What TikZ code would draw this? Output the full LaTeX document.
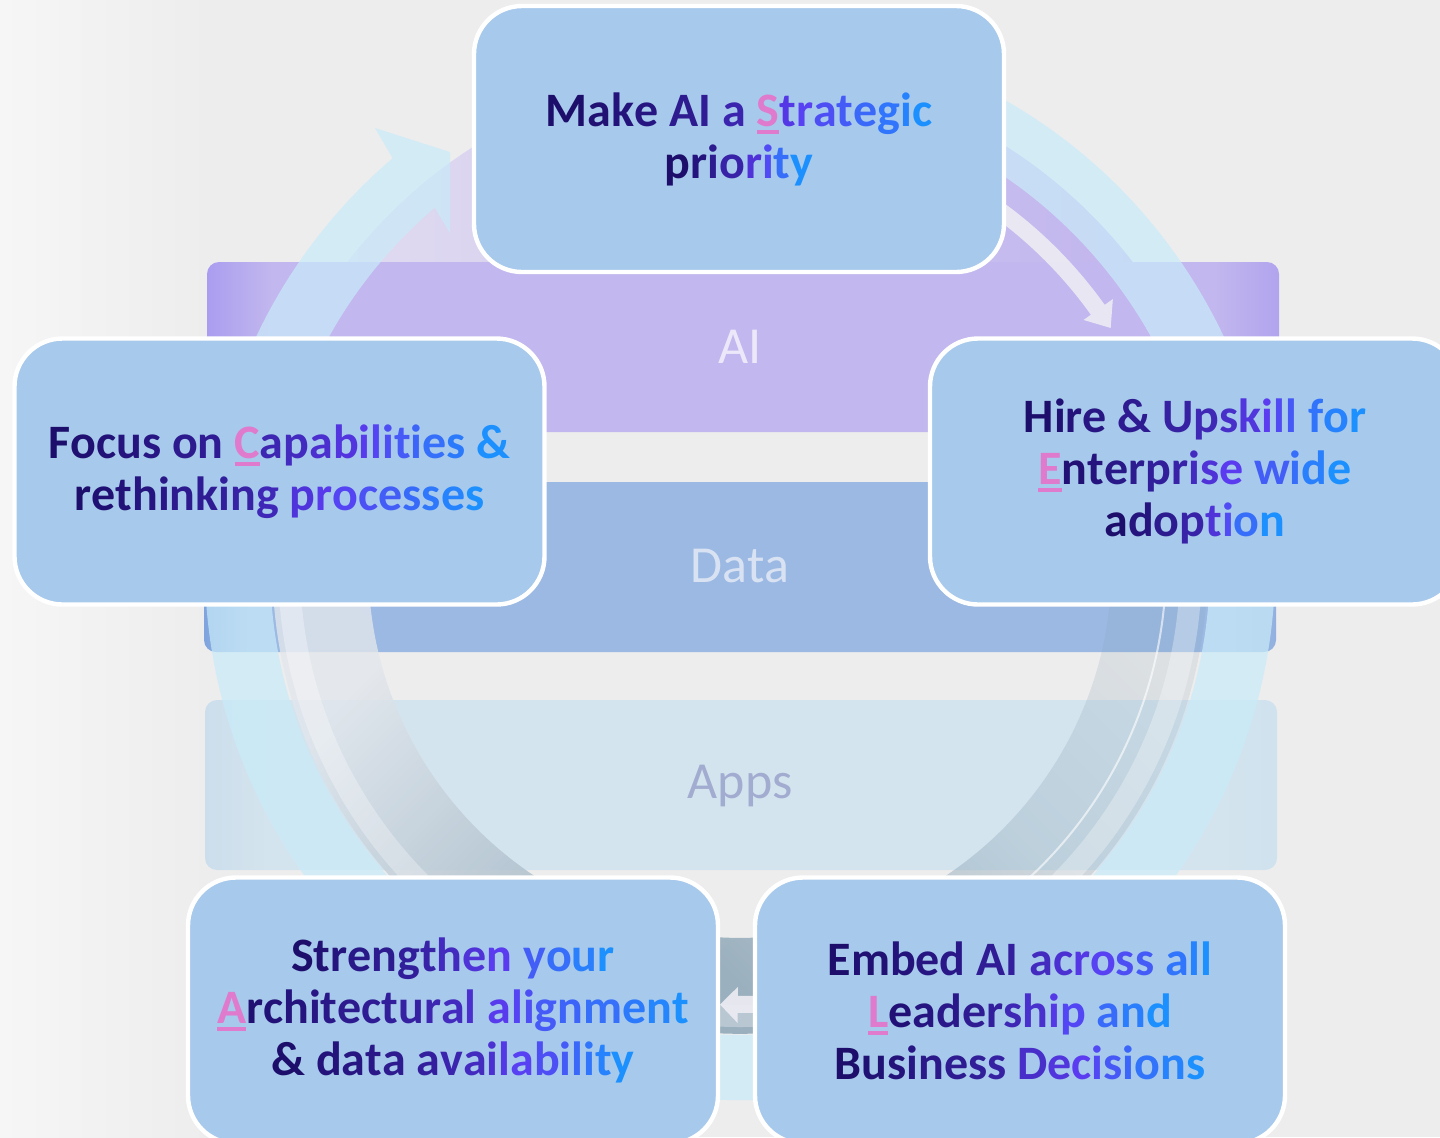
\documentclass[tikz,border=0pt]{standalone}
\usepackage{fontspec}
\setmainfont{Carlito}
\usetikzlibrary{fadings}
\definecolor{bgc}{HTML}{EDEDED}
\definecolor{bgl}{HTML}{F6F6F6}
\definecolor{boxc}{HTML}{A7C9EB}
\definecolor{glA}{HTML}{1D0E6C}
\definecolor{glB}{HTML}{34209F}
\definecolor{glC}{HTML}{5B3CF2}
\definecolor{glD}{HTML}{1C90FF}
\definecolor{glP}{HTML}{E07ACC}
\definecolor{aiA}{HTML}{AA9DF0}
\definecolor{aiB}{HTML}{C2B7EE}
\definecolor{aiC}{HTML}{B1A4EE}
\definecolor{daA}{HTML}{7FA4DE}
\definecolor{daB}{HTML}{9BB9E3}
\definecolor{daC}{HTML}{93B1E0}
\definecolor{apA}{HTML}{CCDEEC}
\definecolor{apB}{HTML}{D4E4EE}
\definecolor{apC}{HTML}{CFE2EE}
\definecolor{aitext}{HTML}{ECE8FA}
\definecolor{datext}{HTML}{D8E2F2}
\definecolor{aptext}{HTML}{A2ACD0}
\definecolor{lavL}{HTML}{E4E0F0}
\definecolor{lavR}{HTML}{BDB0EE}
\definecolor{cyanc}{HTML}{C9EBF9}
\definecolor{ringT}{HTML}{E2E6EC}
\definecolor{ringB}{HTML}{86A1B3}
\definecolor{warrow}{HTML}{ECEBF3}
\pgfdeclarehorizontalshading{aibar}{100bp}{color(0bp)=(aiA); color(25bp)=(aiA); color(28bp)=(aiB); color(72bp)=(aiB); color(75bp)=(aiC); color(100bp)=(aiC)}
\pgfdeclarehorizontalshading{databar}{100bp}{color(0bp)=(daA); color(25bp)=(daA); color(27bp)=(daB); color(73bp)=(daB); color(75bp)=(daC); color(100bp)=(daC)}
\pgfdeclarehorizontalshading{appsbar}{100bp}{color(0bp)=(apA); color(25bp)=(apA); color(28bp)=(apB); color(72bp)=(apB); color(75bp)=(apC); color(100bp)=(apC)}
\pgfdeclareverticalshading{ringcol}{100bp}{color(0bp)=(ringB); color(36bp)=(ringB); color(60bp)=(ringT); color(100bp)=(ringT)}
\pgfdeclarehorizontalshading{ringfadeshade}{100bp}{color(0bp)=(white!80!black); color(34bp)=(white!80!black); color(50bp)=(white!30!black); color(62bp)=(white!16!black); color(100bp)=(white!16!black)}
\pgfdeclarefading{ringfade}{\pgfuseshading{ringfadeshade}}
\ExplSyntaxOn
\int_new:N \l__gl_n_int
\int_new:N \l__gl_i_int
\fp_new:N \l__gl_t_fp
\bool_new:N \l__gl_mark_bool
\str_new:N \l__gl_str
\tl_new:N \l__gl_col_tl
\box_new:N \l__gl_box
\cs_new_protected:Npn \__gl_setcol:
  {
    \fp_set:Nn \l__gl_t_fp { ( \int_use:N \l__gl_i_int - 1 ) / max( \int_use:N \l__gl_n_int - 1 , 1 ) }
    \fp_compare:nNnTF { \l__gl_t_fp } < { 0.4 }
      { \tl_set:Nx \l__gl_col_tl { glB!\fp_eval:n { round( 100 * \l__gl_t_fp / 0.4 ) }!glA } }
      {
        \fp_compare:nNnTF { \l__gl_t_fp } < { 0.65 }
          { \tl_set:Nx \l__gl_col_tl { glC!\fp_eval:n { round( 100 * ( \l__gl_t_fp - 0.4 ) / 0.25 ) }!glB } }
          { \tl_set:Nx \l__gl_col_tl { glD!\fp_eval:n { round( 100 * ( \l__gl_t_fp - 0.65 ) / 0.35 ) }!glC } }
      }
  }
\cs_new_protected:Npn \__gl_ul:n #1
  {
    \group_begin:
    \color{glP}
    \hbox_set:Nn \l__gl_box {#1}
    \hbox_overlap_right:n { \rule[-0.16em]{ \box_wd:N \l__gl_box }{ 0.085em } }
    \box_use:N \l__gl_box
    \group_end:
  }
\NewDocumentCommand \gl { m }
  {
    \str_set:Nn \l__gl_str { #1 }
    \int_set:Nn \l__gl_n_int { \str_count:N \l__gl_str }
    \str_if_in:NnT \l__gl_str { * } { \int_decr:N \l__gl_n_int }
    \int_zero:N \l__gl_i_int
    \bool_set_false:N \l__gl_mark_bool
    \str_map_inline:Nn \l__gl_str
      {
        \str_if_eq:nnTF { ##1 } { * }
          { \bool_set_true:N \l__gl_mark_bool }
          {
            \int_incr:N \l__gl_i_int
            \str_if_eq:nnTF { ##1 } { ~ }
              { \c_space_tl }
              {
                \bool_if:NTF \l__gl_mark_bool
                  { \__gl_ul:n { ##1 } \bool_set_false:N \l__gl_mark_bool }
                  {
                    \__gl_setcol:
                    \str_if_eq:nnTF { ##1 } { + }
                      { { \exp_args:NV \color \l__gl_col_tl \& } }
                      { { \exp_args:NV \color \l__gl_col_tl ##1 } }
                  }
              }
          }
      }
  }
\ExplSyntaxOff
\tikzset{
  box/.style={draw=white, line width=2.2pt, fill=boxc, rounded corners=24pt,
    minimum width=265pt, minimum height=133pt, align=center, inner sep=0pt,
    font=\bfseries\fontsize{24pt}{26pt}\selectfont},
  lbl/.style={font=\fontsize{26pt}{30pt}\selectfont, inner sep=0pt},
  cyanband/.style={fill=cyanc, fill opacity=0.7},
  whitearrow/.style={fill=warrow, fill opacity=0.92}
}
\begin{document}
\begin{tikzpicture}[x=0.5pt,y=-0.5pt]
\useasboundingbox (0,0) rectangle (1440,1137);
\begin{scope}
\clip (0,0) rectangle (1440,1137);
% background
\fill[bgc] (0,0) rectangle (1440,1137);
\shade[left color=bgl, right color=bgc] (0,0) rectangle (210,1137);
% lavender glow inside the ring, above the AI layer
\begin{scope}
\clip (0,0) rectangle (1440,262);
\shade[left color=lavL, right color=lavR] (740,565) circle[radius=496];
\end{scope}
% layer bars
\shade[shading=aibar, rounded corners=6pt] (207,262) rectangle (1279,432);
\shade[shading=databar, rounded corners=6pt] (204,482) rectangle (1276,652);
\shade[shading=appsbar, rounded corners=6pt] (205,700) rectangle (1277,870);
\node[lbl, text=aitext] (ai) at (740,347) {AI};
\node[lbl, text=datext] (data) at (740,566) {Data};
\node[lbl, text=aptext] (apps) at (740,786) {Apps};
% inner ring shading
\begin{scope}
\clip (0,440) rectangle (1440,1137);
\shade[even odd rule, shading=ringcol, shading angle=45,
  path fading=ringfade, fading angle=45, fit fading=true]
  (740,565) circle[radius=468] (740,565) circle[radius=372];
\fill[white, fill opacity=0.3, even odd rule]
  (740,565) circle[radius=462] (740,565) circle[radius=440];
\end{scope}
% outer cyan circular arrow
\begin{scope}[shift={(740,565)}]
\draw[white, line width=1pt, opacity=0.6] (-18:426) arc[start angle=-18, end angle=75, radius=426];
\fill[cyanband] (-70:535) arc[start angle=-70, end angle=229.5, radius=535]
  -- (-365,-437) -- (-290,-413) -- (-290,-332) -- (229.5:470)
  arc[start angle=229.5, end angle=-70, radius=470] -- cycle;
% white arrow top right
\fill[whitearrow] (-64:448) arc[start angle=-64, end angle=-35.5, radius=448]
  -- (-35.5:458) -- (-32.6:440) -- (-35.5:422) -- (-35.5:431)
  arc[start angle=-35.5, end angle=-64, radius=431] -- cycle;
% white arrow bottom
\fill[whitearrow] (60:448) arc[start angle=60, end angle=90.3, radius=448]
  -- (90.3:458) -- (92.6:440) -- (90.3:422) -- (90.3:431)
  arc[start angle=90.3, end angle=60, radius=431] -- cycle;
\end{scope}
% boxes
\node[box] (strategic) at (739,139) {\gl{Make AI a *Strategic}\\\gl{priority}};
\node[box] (capabilities) at (279.5,471.5) {\gl{Focus on *Capabilities +}\\\gl{rethinking processes}};
\node[box] (enterprise) at (1195,471.5) {\gl{Hire + Upskill for}\\\gl{*Enterprise wide}\\\gl{adoption}};
\node[box] (architectural) at (453,1010.5) {\gl{Strengthen your}\\\gl{*Architectural alignment}\\\gl{+ data availability}};
\node[box] (leadership) at (1020,1010.5) {\gl{Embed AI across all}\\\gl{*Leadership and}\\\gl{Business Decisions}};
\end{scope}
\end{tikzpicture}
\end{document}
